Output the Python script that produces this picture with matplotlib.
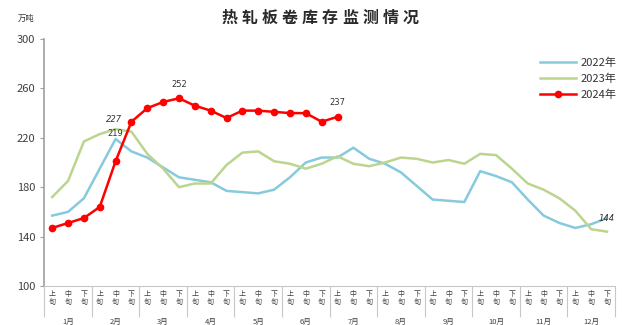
import matplotlib
matplotlib.use("Agg")
import matplotlib.pyplot as plt
import matplotlib.transforms as mtransforms
import numpy as np

plt.rcParams['font.family'] = ['Noto Sans CJK SC', 'DejaVu Sans']

title = "热轧板卷库存监测情况"
months = ["1月", "2月", "3月", "4月", "5月", "6月", "7月", "8月", "9月", "10月", "11月", "12月"]
periods = ["上旬", "中旬", "下旬"]

s2022 = [157, 160, 171, 195, 219, 209, 204, 196, 188, 186, 184, 177,
         176, 175, 178, 188, 200, 204, 204, 212, 203, 199, 192, 181,
         170, 169, 168, 193, 189, 184, 170, 157, 151, 147, 150, 155]
s2023 = [172, 185, 217, 223, 227, 225, 207, 195, 180, 183, 183, 198,
         208, 209, 201, 199, 195, 199, 205, 199, 197, 200, 204, 203,
         200, 202, 199, 207, 206, 195, 183, 178, 171, 161, 146, 144]
s2024 = [147, 151, 155, 164, 201, 233, 244, 249, 252, 246, 242, 236,
         242, 242, 241, 240, 240, 233, 237]

labels_2022 = {4: "219"}
labels_2023 = {4: "227", 35: "144"}
labels_2024 = {8: "252", 18: "237"}

c2022 = "#86CADC"
c2023 = "#BCD58E"
c2024 = "#FF0000"

fig = plt.figure(figsize=(6.32, 3.25), dpi=100)
ax = fig.add_axes([0.070, 0.12, 0.903, 0.76])

n = len(months) * len(periods)
x = np.arange(n)
ax.plot(x, s2022, color=c2022, lw=1.8, label="2022年", zorder=2)
ax.plot(x, s2023, color=c2023, lw=1.8, label="2023年", zorder=2)
ax.plot(np.arange(len(s2024)), s2024, color=c2024, lw=1.8, marker="o",
        markersize=4.5, label="2024年", zorder=3)

for i, t in labels_2022.items():
    ax.annotate(t, (i, s2022[i]), xytext=(0, 1), textcoords="offset points",
                ha="center", va="bottom", fontsize=6, color="#333333",
                family="DejaVu Sans")
for i, t in labels_2023.items():
    off = (-1, 4) if i == 4 else (0, 6)
    ax.annotate(t, (i, s2023[i]), xytext=off, textcoords="offset points",
                ha="center", va="bottom", fontsize=6, color="#333333",
                style="italic", family="DejaVu Sans")
for i, t in labels_2024.items():
    ax.annotate(t, (i, s2024[i]), xytext=(0, 7), textcoords="offset points",
                ha="center", va="bottom", fontsize=6, color="#333333",
                family="DejaVu Sans")

ax.set_xlim(-0.5, n - 0.5)
ax.set_ylim(100, 300)
ax.set_yticks([100, 140, 180, 220, 260, 300])
ax.tick_params(axis="y", labelsize=8, labelcolor="#404040", color="#A0A0A0",
               length=3, width=0.8, direction="out")

ax.set_xticks(x)
ax.set_xticklabels(["\n".join(periods[i % 3]) for i in range(n)],
                   fontsize=5, color="#404040", linespacing=1.0)
ax.tick_params(axis="x", which="major", length=0, pad=3)
ax.set_xticks(np.arange(-0.5, n, 3), minor=True)
ax.tick_params(axis="x", which="minor", length=22, color="#C8C8C8", width=0.8)

trans = mtransforms.blended_transform_factory(ax.transData, ax.transAxes)
for k, m in enumerate(months):
    ax.text(3 * k + 1, -0.145, m, transform=trans, ha="center", va="center",
            fontsize=5.5, color="#404040")

for s in ["top", "right"]:
    ax.spines[s].set_visible(False)
ax.spines["left"].set_color("#A0A0A0")
ax.spines["bottom"].set_color("#C8C8C8")
ax.spines["left"].set_linewidth(1.2)

# title with wide character spacing
x0, x1 = 229 / 632, 411 / 632
for k, ch in enumerate(title):
    fig.text(x0 + (x1 - x0) * k / (len(title) - 1), 1 - 18 / 325, ch,
             ha="center", va="center", fontsize=11.5, fontweight="bold",
             color="#2a2a2a")
fig.text(0.028, 1 - 18 / 325, "万吨", ha="left", va="center", fontsize=6,
         color="#333333")

ax.legend(loc="upper right", bbox_to_anchor=(1.02, 0.965), frameon=False,
          fontsize=8, handlelength=3.2, handletextpad=0.4, labelspacing=0.5,
          labelcolor="#333333")

fig.savefig("out.png", dpi=100)
